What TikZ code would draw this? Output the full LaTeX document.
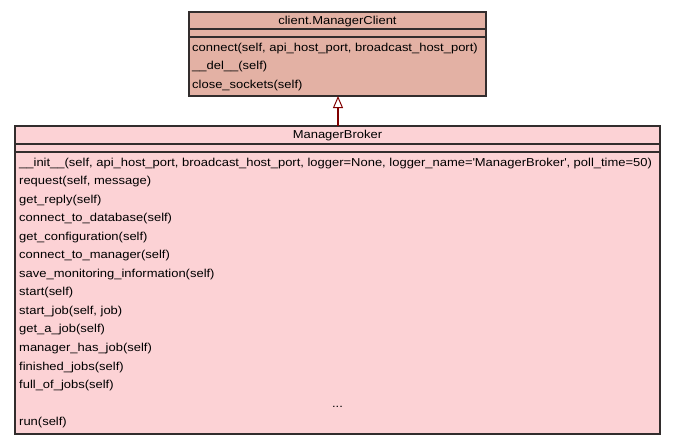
\documentclass[tikz,border=0pt]{standalone}
\usepackage{fontspec}
\setmainfont{Liberation Sans}[FakeStretch=1.128]
\usetikzlibrary{arrows.meta}
\definecolor{clientfill}{RGB}{227,177,164}
\definecolor{brokerfill}{RGB}{252,210,213}
\definecolor{umlborder}{RGB}{50,45,45}
\definecolor{inherit}{RGB}{128,0,0}
\tikzset{
  classbox/.style={draw=umlborder, line width=1.2pt},
  sepline/.style={draw=umlborder, line width=1.2pt},
  member/.style={anchor=base west, inner sep=0pt, font=\fontsize{11.5}{12}\selectfont},
  title/.style={anchor=base, inner sep=0pt, font=\fontsize{11.5}{12}\selectfont},
  generalization/.style={draw=inherit, line width=2pt, -{Triangle[open, fill=white, length=12pt, width=10pt, line width=1pt]}}
}
\begin{document}
\begin{tikzpicture}[x=1pt,y=-1pt]
  \useasboundingbox (0,0) rectangle (675,445);

  % base class: client.ManagerClient
  \path[fill=clientfill, classbox] (189,12) rectangle (486,96);
  \draw[sepline] (189,29) -- (486,29);
  \draw[sepline] (189,37) -- (486,37);
  \coordinate (clientbottom) at (338,96);
  \node[title] (clientname) at (337.5,24.5) {client.ManagerClient};
  \node[member] (c1) at (192,51) {connect(self, api\_host\_port, broadcast\_host\_port)};
  \node[member] (c2) at (192,69.5) {\_\_del\_\_(self)};
  \node[member] (c3) at (192,88) {close\_sockets(self)};

  % derived class: ManagerBroker
  \path[fill=brokerfill, classbox] (15,126) rectangle (660,434);
  \draw[sepline] (15,144) -- (660,144);
  \draw[sepline] (15,152) -- (660,152);
  \coordinate (brokertop) at (338,126);
  \node[title] (brokername) at (337.5,138.5) {ManagerBroker};
  \foreach \txt [count=\i] in {
    {\_\_init\_\_(self, api\_host\_port, broadcast\_host\_port, logger=None, logger\_name=\textquotesingle ManagerBroker\textquotesingle, poll\_time=50)},
    {request(self, message)},
    {get\_reply(self)},
    {connect\_to\_database(self)},
    {get\_configuration(self)},
    {connect\_to\_manager(self)},
    {save\_monitoring\_information(self)},
    {start(self)},
    {start\_job(self, job)},
    {get\_a\_job(self)},
    {manager\_has\_job(self)},
    {finished\_jobs(self)},
    {full\_of\_jobs(self)}}
    \node[member] (m\i) at (19,{166+(\i-1)*18.55}) {\txt};
  \node[title] (ellipsis) at (337.5,{166+13*18.55}) {...};
  \node[member] (m14) at (19,{166+14*18.55}) {run(self)};

  % generalization arrow
  \draw[generalization] (brokertop) -- (clientbottom);
\end{tikzpicture}
\end{document}
